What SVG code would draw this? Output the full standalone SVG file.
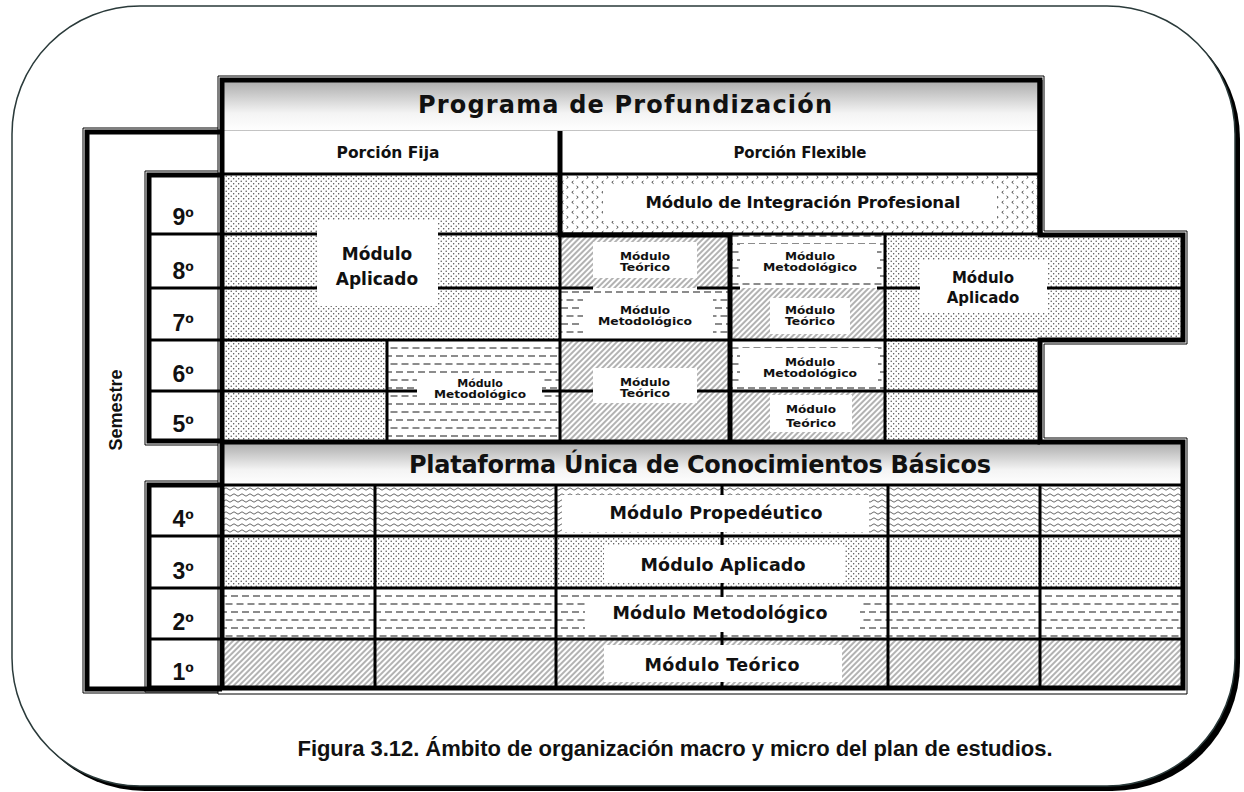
<svg xmlns="http://www.w3.org/2000/svg" width="1244" height="792" viewBox="0 0 1244 792">
<style>
.lbl{font-family:"DejaVu Sans",Verdana,sans-serif;font-weight:bold;text-anchor:middle;fill:#111}
.ar{font-family:"Liberation Sans",Arial,sans-serif;font-weight:bold;text-anchor:middle;fill:#111}
.sm{font-size:11px}
.md{font-size:15px}
.lg{font-size:17.5px}
.ttl{font-size:24px}
.num{font-size:23px}
.w{fill:#fff}
.ln{stroke:#000;stroke-width:3;fill:none}
.thk{stroke:#000;stroke-width:5;fill:none}
.thin{stroke:#000;stroke-width:1;fill:none}
</style>
<defs>
<linearGradient id="grad" x1="0" y1="0" x2="0" y2="1">
<stop offset="0" stop-color="#aaaaaa"/>
<stop offset="0.65" stop-color="#f4f4f4"/>
<stop offset="1" stop-color="#ffffff"/>
</linearGradient>
<pattern id="dots" width="5" height="5" patternUnits="userSpaceOnUse">
<rect width="5" height="5" fill="#fff"/>
<circle cx="1.2" cy="1.2" r="0.7" fill="#444"/>
<circle cx="3.7" cy="3.7" r="0.7" fill="#444"/>
</pattern>
<pattern id="dash" width="11" height="16" patternUnits="userSpaceOnUse">
<rect width="11" height="16" fill="#fff"/>
<path d="M0 4H7M5.5 12H11M0 12H1.5" stroke="#666" stroke-width="1.6"/>
</pattern>
<pattern id="hatch" width="4" height="4" patternUnits="userSpaceOnUse" patternTransform="rotate(45)">
<rect width="4" height="4" fill="#fff"/>
<line x1="2" y1="0" x2="2" y2="4" stroke="#666" stroke-width="1"/>
</pattern>
<pattern id="wave" width="8" height="6" patternUnits="userSpaceOnUse">
<rect width="8" height="6" fill="#fff"/>
<path d="M0 3Q2 0.6 4 3T8 3" stroke="#666" stroke-width="1" fill="none"/>
</pattern>
<pattern id="chev" width="10" height="10" patternUnits="userSpaceOnUse">
<rect width="10" height="10" fill="#fff"/>
<path d="M3.5 1L1.8 2.3L3.5 3.6M6.5 6L8.2 7.3L6.5 8.6" stroke="#333" stroke-width="0.9" fill="none"/>
</pattern>
</defs>

<!-- outer frame -->
<rect x="17" y="11" width="1223" height="780" rx="128" fill="#000"/>
<rect x="12" y="6" width="1223" height="780" rx="128" fill="#fff" stroke="#2a3a3a" stroke-width="1.5"/>

<g id="hdr-programa">
<rect x="222" y="80" width="818" height="51" fill="url(#grad)" stroke="#888" stroke-width="1"/>
<text class="lbl ttl" x="625" y="113" textLength="414" lengthAdjust="spacing">Programa de Profundización</text>
</g>
<g id="hdr-porcion">
<rect x="222" y="131" width="818" height="43" class="w"/>
<text class="lbl" font-size="15.5" x="388" y="158">Porción Fija</text>
<text class="lbl md" x="800" y="158" textLength="133" lengthAdjust="spacing">Porción Flexible</text>
</g>

<g id="semestre">
<rect x="87" y="132" width="135" height="557" class="w"/>
<text class="ar" font-size="18" transform="translate(122,410) rotate(-90)">Semestre</text>
</g>

<g id="sem-upper">
<rect x="149" y="175" width="73" height="266" class="w"/>
<text class="ar num" x="183" y="225">9º</text>
<text class="ar num" x="183" y="279">8º</text>
<text class="ar num" x="183" y="331">7º</text>
<text class="ar num" x="183" y="382">6º</text>
<text class="ar num" x="183" y="432">5º</text>
</g>
<g id="sem-lower">
<rect x="149" y="485" width="73" height="203" class="w"/>
<text class="ar num" x="183" y="527">4º</text>
<text class="ar num" x="183" y="579">3º</text>
<text class="ar num" x="183" y="630">2º</text>
<text class="ar num" x="183" y="680">1º</text>
</g>

<g id="integracion">
<rect x="560" y="174" width="480" height="61" fill="url(#chev)"/>
<rect x="603" y="185" width="394" height="36" class="w"/>
<text class="lbl" font-size="16.5" x="803" y="208" textLength="315" lengthAdjust="spacing">Módulo de Integración Profesional</text>
</g>

<g id="aplicado-fijo">
<rect x="222" y="174" width="338" height="166" fill="url(#dots)"/>
<rect x="317" y="220" width="121" height="86" class="w"/>
<text class="lbl" font-size="17" x="377" y="260">Módulo</text>
<text class="lbl" font-size="17" x="377" y="285">Aplicado</text>
</g>

<g id="aplicado-fijo-56">
<rect x="222" y="340" width="165" height="101" fill="url(#dots)"/>
</g>
<g id="metodologico-fijo-56">
<rect x="387" y="340" width="173" height="101" fill="url(#dash)"/>
<rect x="417" y="375" width="125" height="27" class="w"/>
<text class="lbl sm" x="480" y="387">Módulo</text>
<text class="lbl sm" x="480" y="398" textLength="92" lengthAdjust="spacingAndGlyphs">Metodológico</text>
</g>

<g id="teorico-f1-8">
<rect x="560" y="235" width="170" height="53" fill="url(#hatch)"/>
<rect x="593" y="242" width="104" height="36" class="w"/>
<text class="lbl sm" x="645" y="260" textLength="50" lengthAdjust="spacingAndGlyphs">Módulo</text>
<text class="lbl sm" x="645" y="271" textLength="50" lengthAdjust="spacingAndGlyphs">Teórico</text>
</g>
<g id="metodologico-f1-7">
<rect x="560" y="288" width="170" height="52" fill="url(#dash)"/>
<rect x="583" y="296" width="130" height="42" class="w"/>
<text class="lbl sm" x="645" y="314" textLength="50" lengthAdjust="spacingAndGlyphs">Módulo</text>
<text class="lbl sm" x="645" y="325" textLength="94" lengthAdjust="spacingAndGlyphs">Metodológico</text>
</g>
<g id="teorico-f1-56">
<rect x="560" y="340" width="170" height="101" fill="url(#hatch)"/>
<rect x="593" y="368" width="104" height="35" class="w"/>
<text class="lbl sm" x="645" y="386" textLength="50" lengthAdjust="spacingAndGlyphs">Módulo</text>
<text class="lbl sm" x="645" y="397" textLength="50" lengthAdjust="spacingAndGlyphs">Teórico</text>
</g>

<g id="metodologico-f2-8">
<rect x="730" y="235" width="155" height="53" fill="url(#dash)"/>
<rect x="740" y="244" width="137" height="37" class="w"/>
<text class="lbl sm" x="810" y="260" textLength="50" lengthAdjust="spacingAndGlyphs">Módulo</text>
<text class="lbl sm" x="810" y="271" textLength="94" lengthAdjust="spacingAndGlyphs">Metodológico</text>
</g>
<g id="teorico-f2-7">
<rect x="730" y="288" width="155" height="52" fill="url(#hatch)"/>
<rect x="770" y="298" width="80" height="36" class="w"/>
<text class="lbl sm" x="810" y="314" textLength="50" lengthAdjust="spacingAndGlyphs">Módulo</text>
<text class="lbl sm" x="810" y="325" textLength="50" lengthAdjust="spacingAndGlyphs">Teórico</text>
</g>
<g id="metodologico-f2-6">
<rect x="730" y="340" width="155" height="51" fill="url(#dash)"/>
<rect x="740" y="348" width="138" height="35" class="w"/>
<text class="lbl sm" x="810" y="366" textLength="50" lengthAdjust="spacingAndGlyphs">Módulo</text>
<text class="lbl sm" x="810" y="377" textLength="94" lengthAdjust="spacingAndGlyphs">Metodológico</text>
</g>
<g id="teorico-f2-5">
<rect x="730" y="391" width="155" height="50" fill="url(#hatch)"/>
<rect x="770" y="395" width="82" height="37" class="w"/>
<text class="lbl sm" x="811" y="413" textLength="50" lengthAdjust="spacingAndGlyphs">Módulo</text>
<text class="lbl sm" x="811" y="427" textLength="50" lengthAdjust="spacingAndGlyphs">Teórico</text>
</g>

<g id="aplicado-flex">
<rect x="885" y="235" width="298" height="105" fill="url(#dots)"/>
<rect x="885" y="340" width="155" height="101" fill="url(#dots)"/>
<rect x="920" y="260" width="127" height="53" class="w"/>
<text class="lbl md" x="983" y="283">Módulo</text>
<text class="lbl md" x="983" y="303">Aplicado</text>
</g>

<g id="hdr-plataforma">
<rect x="222" y="442" width="961" height="43" fill="url(#grad)"/>
<text class="lbl ttl" x="700" y="473" textLength="582" lengthAdjust="spacing">Plataforma Única de Conocimientos Básicos</text>
</g>

<g id="propedeutico">
<rect x="222" y="485" width="961" height="51" fill="url(#wave)"/>
<rect x="562" y="495" width="307" height="37" class="w"/>
<text class="lbl lg" x="716" y="519" textLength="213" lengthAdjust="spacing">Módulo Propedéutico</text>
</g>
<g id="aplicado-basico">
<rect x="222" y="536" width="961" height="52" fill="url(#dots)"/>
<rect x="604" y="545" width="241" height="38" class="w"/>
<text class="lbl lg" x="723" y="571" textLength="165" lengthAdjust="spacing">Módulo Aplicado</text>
</g>
<g id="metodologico-basico">
<rect x="222" y="588" width="961" height="51" fill="url(#dash)"/>
<rect x="585" y="597" width="275" height="35" class="w"/>
<text class="lbl lg" x="720" y="619" textLength="215" lengthAdjust="spacing">Módulo Metodológico</text>
</g>
<g id="teorico-basico">
<rect x="222" y="639" width="961" height="49" fill="url(#hatch)"/>
<rect x="604" y="645" width="238" height="37" class="w"/>
<text class="lbl lg" x="722" y="671" textLength="155" lengthAdjust="spacing">Módulo Teórico</text>
</g>

<g id="connectors">
<path class="ln" d="M149 234H222M149 288H222M149 340H222M149 391H222M149 536H222M149 588H222M149 639H222"/>
<path class="ln" d="M222 174H1040"/>
<path class="ln" d="M222 234H317M438 234H560M222 288H317M438 288H560M222 340H560"/>
<path class="ln" d="M387 340V441M222 391H417M542 391H560"/>
<path class="ln" d="M560 234H1040M560 235V441"/>
<path class="ln" d="M560 288H593M697 288H730M730 288H740M877 288H920M1047 288H1183"/>
<path class="ln" d="M560 340H1183M560 391H593M697 391H730M730 391H1040"/>
<path class="ln" d="M885 235V441"/>
<path class="ln" d="M222 536H1183M222 588H1183M222 639H1183"/>
<path class="ln" d="M375 485V688M556 485V688M888 485V688M1040 485V688"/>
<path class="ln" d="M722 485V495M722 532V545M722 583V597M722 632V645M722 682V688"/>
<path class="thk" d="M560 131V235H730V441"/>
<path class="ln" d="M222 485H1183"/>
</g>

<g id="frames">
<path class="thin" d="M218 76H1044V231H1187V344H1044V438H1187V694H218Z"/>
<path class="thk" d="M222 80H1040V235H1183V340H1040V442H1183V688H222Z"/>
<path class="thk" d="M222 442H1040"/>
<path class="thin" d="M83 128H218M83 128V693H218"/>
<path class="thk" d="M222 132H87V689H222"/>
<path class="thin" d="M145 171H218M145 171V445H218M145 481H218M145 481V692H218"/>
<path class="thk" d="M222 175H149V441H222M222 485H149V688H222"/>
<path class="thk" d="M1040 80V235"/>
</g>

<text class="ar" font-size="22" x="675" y="756" textLength="755" lengthAdjust="spacing">Figura 3.12. Ámbito de organización macro y micro del plan de estudios.</text>
</svg>
